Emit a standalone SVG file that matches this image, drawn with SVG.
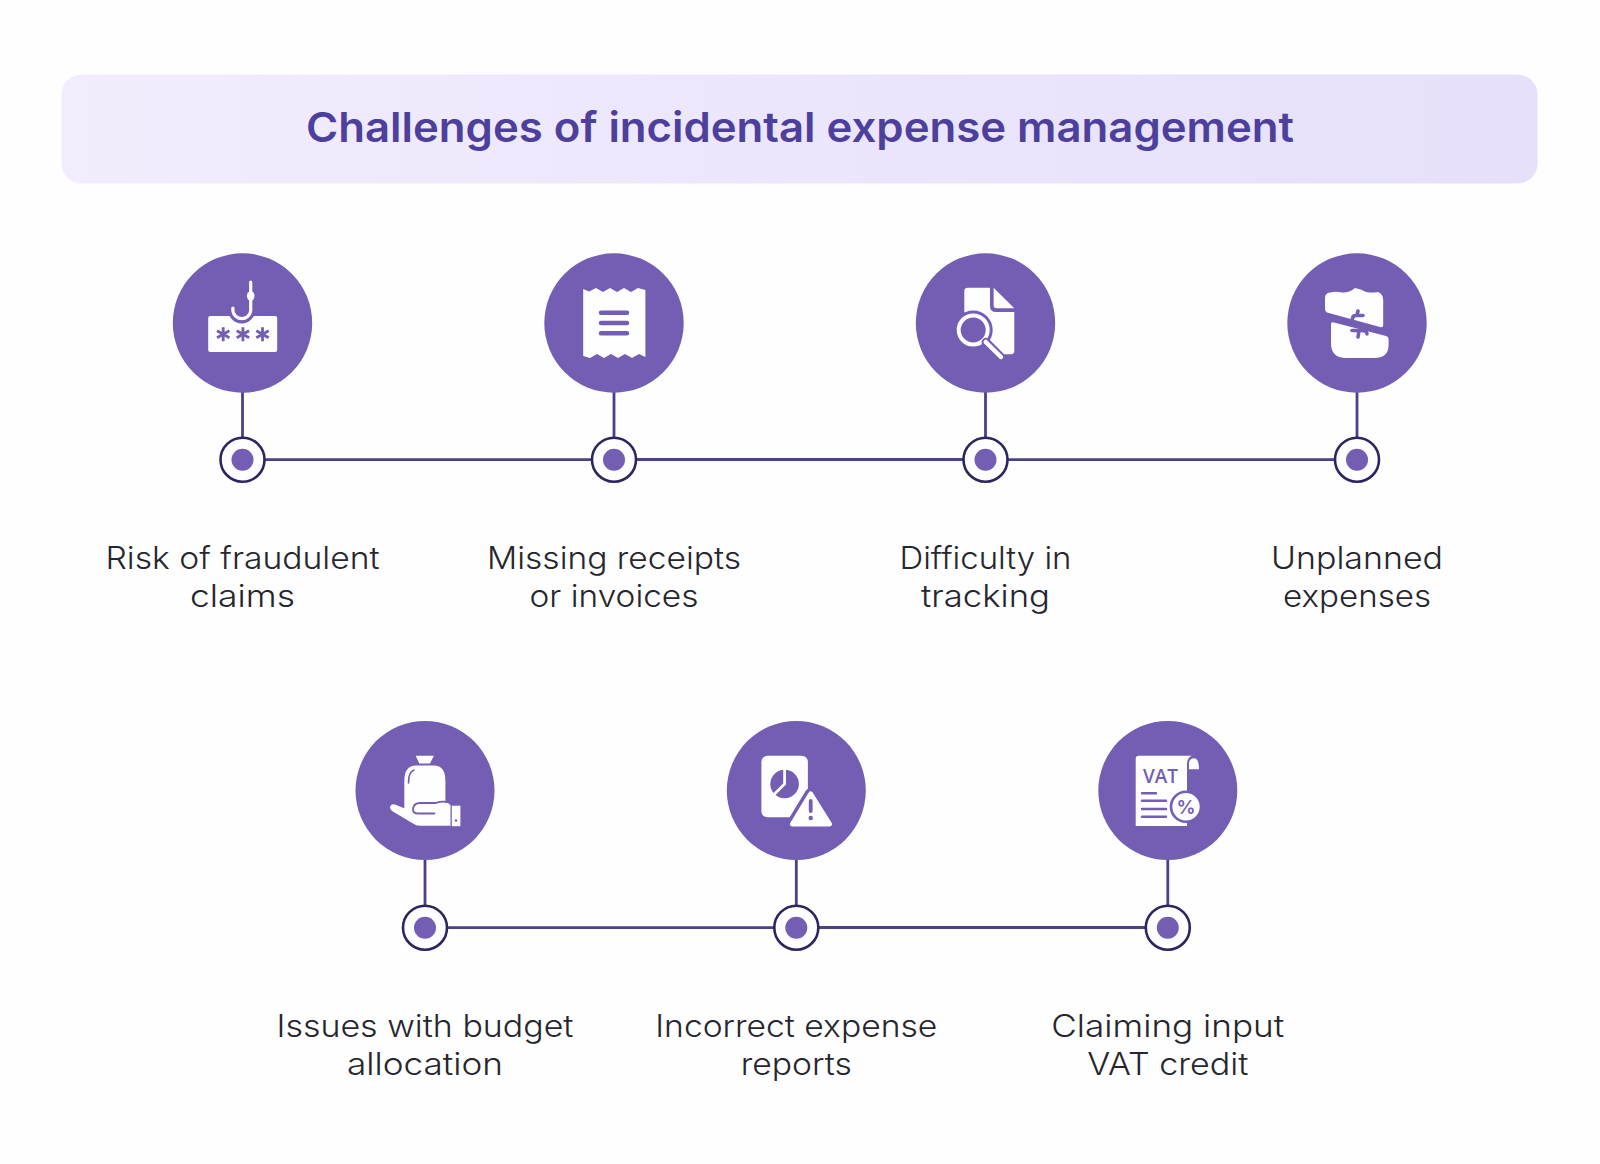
<svg xmlns="http://www.w3.org/2000/svg" width="1600" height="1164" viewBox="0 0 1600 1164">
<defs>
<linearGradient id="bannerFill" x1="0" y1="0" x2="1" y2="0"><stop offset="0" stop-color="#f3ecfd"/><stop offset="0.5" stop-color="#ebe6fc"/><stop offset="1" stop-color="#e6e0fa"/></linearGradient>
<path id="star" d="M0-7V7M-6.200-3.500L6.200 3.500M-6.200 3.500L6.200-3.500" fill="none" stroke="#735eb3" stroke-width="2.800"/>
</defs>
<style>
.disc{fill:#735eb3}
.ring{fill:#fefdff;stroke:#2c2560;stroke-width:2.600}
.dot{fill:#735eb3}
.conn{stroke:#4a4288;stroke-width:2.800;fill:none}
.w{fill:#fefdff}
.p{fill:#735eb3}
.wl{fill:none;stroke:#fefdff;stroke-linecap:round}
.pl{fill:none;stroke:#735eb3;stroke-linecap:round}
.label{font-family:"Inter","Liberation Sans",sans-serif;font-size:31px;font-weight:300;fill:#26262e;text-anchor:middle}
.title{font-family:"Inter","Liberation Sans",sans-serif;font-size:41px;font-weight:600;fill:#4d3f9c;text-anchor:middle}
</style>
<rect width="1600" height="1164" fill="#fefeff"/>
<g id="banner">
<rect x="61.500" y="74.500" width="1476" height="109" rx="20" fill="url(#bannerFill)"/>
<text class="title" x="800" y="142" textLength="988" lengthAdjust="spacingAndGlyphs">Challenges of incidental expense management</text>
</g>
<g id="connectors">
<path class="conn" d="M242.500 392V437M614 392V437M985.500 392V437M1357 392V437M265 459.700H592M636 459.500H963M1008 459.700H1335"/>
<path class="conn" d="M425 860V905M796.300 860V905M1167.800 860V905M447 927.700H774M819 927.500H1146"/>
</g>
<g id="node-1">
<circle class="disc" cx="242.500" cy="323" r="69.700"/>
<rect class="w" x="208.200" y="316" width="69" height="36" rx="2"/>
<path class="pl" d="M250.700 305V310A9 9 0 0 1 232.700 310" stroke-width="9" stroke-linecap="butt"/>
<path class="wl" d="M250.700 282V311A9 9 0 0 1 232.900 311V308" stroke-width="3.200"/>
<ellipse class="w" cx="250.700" cy="296" rx="3.800" ry="4.800"/>
<use href="#star" x="223.200" y="334.300"/><use href="#star" x="242.900" y="334.300"/><use href="#star" x="262.500" y="334.300"/>
<circle class="ring" cx="242.500" cy="459.700" r="22"/><circle class="dot" cx="242.500" cy="459.700" r="11"/>
<text class="label" x="242.500" y="568.500" textLength="274" lengthAdjust="spacingAndGlyphs">Risk of fraudulent</text>
<text class="label" x="242.500" y="606.500" textLength="105" lengthAdjust="spacingAndGlyphs">claims</text>
</g>
<g id="node-2">
<circle class="disc" cx="614" cy="323" r="69.700"/>
<path class="w" d="M583.200 289L589 291.500L596 288L603 292L610 288L617 292L624 288L631 292L638 288L645.400 290V357L639 354L632 358L625 354L618 358L611 354L604 358L597 354L590 358L583.200 356Z"/>
<path class="pl" d="M601 312.700H627M601 323H627M601 333.300H627" stroke-width="4.500"/>
<circle class="ring" cx="614" cy="459.700" r="22"/><circle class="dot" cx="614" cy="459.700" r="11"/>
<text class="label" x="614" y="568.500" textLength="254" lengthAdjust="spacingAndGlyphs">Missing receipts</text>
<text class="label" x="614" y="606.500" textLength="169" lengthAdjust="spacingAndGlyphs">or invoices</text>
</g>
<g id="node-3">
<circle class="disc" cx="985.500" cy="323" r="69.700"/>
<path class="w" d="M968 287.700H990V306Q990 312 996 312H1014.300V351Q1014.300 354.300 1011 354.300H1004L980 330L964.300 312V291Q964.300 287.700 968 287.700Z"/>
<path class="w" d="M993.600 287.700L1014.300 308.300H996.600Q993.600 308.300 993.600 305Z"/>
<circle class="p" cx="973.200" cy="330" r="19.500"/>
<circle cx="973.200" cy="330" r="14.500" fill="#735eb3" stroke="#fefdff" stroke-width="4"/>
<path class="pl" d="M985.700 342L1001 357" stroke-width="8"/>
<path class="wl" d="M985.700 342L1001 357" stroke-width="4.500"/>
<circle class="ring" cx="985.500" cy="459.700" r="22"/><circle class="dot" cx="985.500" cy="459.700" r="11"/>
<text class="label" x="985.500" y="568.500" textLength="172" lengthAdjust="spacingAndGlyphs">Difficulty in</text>
<text class="label" x="985.500" y="606.500" textLength="129" lengthAdjust="spacingAndGlyphs">tracking</text>
</g>
<g id="node-4">
<circle class="disc" cx="1357" cy="323" r="69.700"/>
<path class="w" d="M1325 298Q1325 293 1330 292.500Q1336 291 1342 292.500Q1349 293 1355 288Q1361 289 1366 292Q1373 293 1378 292Q1383.200 294 1383.200 300V325Q1383.200 328 1380 327L1327 312.500Q1325 312 1325 309Z"/>
<path class="w" d="M1331 324Q1331 321.500 1334 322.500L1386 336Q1388.600 336.500 1388.600 339V345Q1388.600 358 1374 358H1346Q1331 358 1331 343Z"/>
<path class="pl" d="M1352.500 319Q1352.500 315.500 1356 315.500H1363M1357 315L1358 311M1352 330.500H1362Q1367 330.500 1367 334M1359 331L1358 337" stroke-width="3.600"/>
<circle class="ring" cx="1357" cy="459.700" r="22"/><circle class="dot" cx="1357" cy="459.700" r="11"/>
<text class="label" x="1357" y="568.500" textLength="172" lengthAdjust="spacingAndGlyphs">Unplanned</text>
<text class="label" x="1357" y="606.500" textLength="148" lengthAdjust="spacingAndGlyphs">expenses</text>
</g>
<g id="node-5">
<circle class="disc" cx="425" cy="790.500" r="69.500"/>
<path class="w" d="M415.700 755.700H433.900L430 763.500H419.300Z"/>
<path class="w" d="M404.300 781Q404.300 765.500 416 765.500H434Q445.400 765.500 445.400 781V812H404.300Z"/>
<path class="pl" d="M408.500 783Q408.500 772 414 770" stroke-width="1.600"/>
<path class="w" d="M392 804.500Q388 807 392 811L413 823.500Q416 825.700 420 825.700H450.500V805Q445 800 436 800H420Q412 801 411 811L395 804.500Q393 803.800 392 804.500Z"/>
<path class="pl" d="M434.500 813.500H418Q412.500 813.500 413 808.500Q414 803 420 803H436Q441 801 447 802" stroke-width="1.800" stroke-linecap="butt"/>
<rect class="w" x="451.800" y="805.700" width="8.600" height="20.500"/>
<circle class="p" cx="456" cy="820.500" r="1.200"/>
<circle class="ring" cx="425" cy="927.700" r="22"/><circle class="dot" cx="425" cy="927.700" r="11"/>
<text class="label" x="425" y="1036.500" textLength="297" lengthAdjust="spacingAndGlyphs">Issues with budget</text>
<text class="label" x="425" y="1074.500" textLength="156" lengthAdjust="spacingAndGlyphs">allocation</text>
</g>
<g id="node-6">
<circle class="disc" cx="796.300" cy="790.500" r="69.500"/>
<rect class="w" x="761.400" y="755.700" width="46.500" height="61.600" rx="6"/>
<circle class="p" cx="784.600" cy="784" r="14.300"/>
<path d="M784.600 769V784L773.500 795" fill="none" stroke="#fefdff" stroke-width="2.800"/>
<path d="M810.700 794L829.500 824H792.500Z" fill="#735eb3" stroke="#735eb3" stroke-width="12" stroke-linejoin="round"/>
<path class="w" d="M810.700 794L829.500 824H792.500Z" stroke="#fefdff" stroke-width="5" stroke-linejoin="round"/>
<path class="pl" d="M810.700 801V811" stroke-width="3.800"/>
<circle class="p" cx="810.700" cy="818" r="2.200"/>
<circle class="ring" cx="796.300" cy="927.700" r="22"/><circle class="dot" cx="796.300" cy="927.700" r="11"/>
<text class="label" x="796.300" y="1036.500" textLength="282" lengthAdjust="spacingAndGlyphs">Incorrect expense</text>
<text class="label" x="796.300" y="1074.500" textLength="111" lengthAdjust="spacingAndGlyphs">reports</text>
</g>
<g id="node-7">
<circle class="disc" cx="1167.800" cy="790.500" r="69.500"/>
<path class="w" d="M1139 755.700H1192Q1187 757 1187 765V826H1135.700V759Q1135.700 755.700 1139 755.700Z"/>
<path class="w" d="M1189 769.300V763Q1189.500 758.300 1194 758.300Q1199 758.300 1199 769.300Z"/>
<text x="1160.500" y="783" text-anchor="middle" font-family="'Open Sans','Liberation Sans',sans-serif" font-size="20" font-weight="600" fill="#735eb3" textLength="35" lengthAdjust="spacingAndGlyphs">VAT</text>
<path class="pl" d="M1142 793.300H1156M1142 800.700H1166M1142 809H1166M1142 816.700H1166" stroke-width="2.400" stroke-linecap="butt"/>
<circle class="w" cx="1186" cy="806.700" r="15" stroke="#735eb3" stroke-width="2.600"/>
<text x="1186" y="813.500" text-anchor="middle" font-family="'Inter','Liberation Sans',sans-serif" font-size="19" font-weight="600" fill="#735eb3">%</text>
<circle class="ring" cx="1167.800" cy="927.700" r="22"/><circle class="dot" cx="1167.800" cy="927.700" r="11"/>
<text class="label" x="1167.800" y="1036.500" textLength="233" lengthAdjust="spacingAndGlyphs">Claiming input</text>
<text class="label" x="1167.800" y="1074.500" textLength="161" lengthAdjust="spacingAndGlyphs">VAT credit</text>
</g>
</svg>
